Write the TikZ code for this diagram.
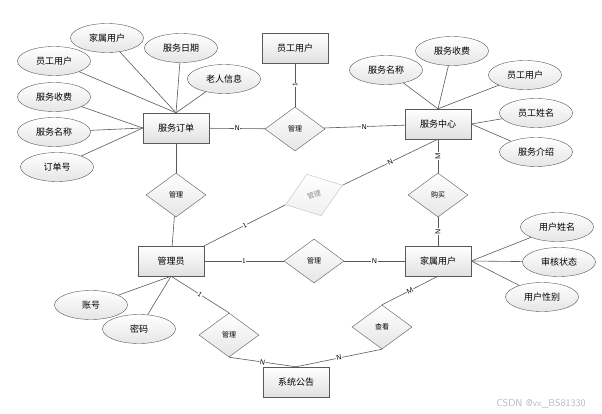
\documentclass[tikz,border=0pt]{standalone}
\usepackage{fontspec}
\newfontfamily\cjk{Noto Sans CJK SC}
\usetikzlibrary{shapes.geometric,shadows}
\begin{document}
\begin{tikzpicture}[x = 1pt, y = -1pt,
		entity/.style = {draw = black!65, top color = white, bottom color = black!12, minimum width = 66pt, minimum height = 30pt, inner sep = 0pt, font = \cjk\fontsize{9}{10}\selectfont, drop shadow = {shadow xshift = 1pt, shadow yshift = -1pt, opacity = 0.25}},
		attr/.style = {ellipse, draw = black!65, top color = white, bottom color = black!10, minimum width = 73pt, minimum height = 29pt, inner sep = 0pt, font = \cjk\fontsize{9}{10}\selectfont},
		rel/.style = {diamond, draw = black!65, top color = white, bottom color = black!10, minimum width = 60pt, minimum height = 44pt, inner sep = 0pt, font = \cjk\fontsize{7}{8}\selectfont},
		link/.style = {draw = black!65, line width = 0.6pt},
		card/.style = {font = \sffamily\fontsize{7}{8}\selectfont, inner sep = 0.5pt, fill = white}]
	\useasboundingbox (0, 0) rectangle (602, 414);
	%Entities
	\node[entity] (yg) at (295, 48) {员工用户};
	\node[entity] (od) at (176, 128) {服务订单};
	\node[entity] (sc) at (438, 124) {服务中心};
	\node[entity] (admin) at (171, 261) {管理员};
	\node[entity] (jy) at (438, 261) {家属用户};
	\node[entity] (gg) at (296, 382) {系统公告};
	%Relations
	\node[rel] (r1) at (295, 129) {管理};
	\node[rel] (r2) at (176, 195) {管理};
	\node[rel, draw = black!25, top color = white, bottom color = black!6, text = black!45, rotate = 19] (r3) at (314, 195) {管理};
	\node[rel] (r4) at (438, 195) {购买};
	\node[rel] (r5) at (314, 261) {管理};
	\node[rel] (r6) at (229, 335) {管理};
	\node[rel] (r7) at (382, 327) {查看};
	%Attributes
	\foreach \n/\p/\t in {o1/{107, 38}/家属用户, o2/{181, 48}/服务日期, o3/{54, 61}/员工用户, o4/{224, 79}/老人信息,
			o5/{54, 97}/服务收费, o6/{54, 132}/服务名称, o7/{57, 167}/订单号,
			s1/{386, 70}/服务名称, s2/{452, 51}/服务收费, s3/{525, 75}/员工用户, s4/{536, 113}/员工姓名, s5/{536, 152}/服务介绍,
			j1/{557, 227}/用户姓名, j2/{559, 262}/审核状态, j3/{542, 297}/用户性别,
			m1/{91, 305}/账号, m2/{139, 329}/密码}
		\node[attr] (\n) at (\p) {\t};
	\foreach \n in {o1, o2, o3, o4}
		\draw[link] (\n) -- (od.north);
	\foreach \n in {o5, o6, o7}
		\draw[link] (\n) -- (od.west);
	\foreach \n in {s1, s2, s3}
		\draw[link] (\n) -- (sc.north);
	\foreach \n in {s4, s5}
		\draw[link] (\n) -- (sc.east);
	\foreach \n in {j1, j2, j3}
		\draw[link] (\n) -- (jy.east);
	\foreach \n in {m1, m2}
		\draw[link] (\n) -- (admin.south);
	%Connections
	\draw[link] (od) -- node[card] {N} (r1);
	\draw[link] (r1) -- node[card] {N} (sc);
	\draw[link] (yg) -- node[card, rotate = 90] {1} (r1);
	\draw[link] (od) -- (r2);
	\draw[link] (r2) -- (admin);
	\draw[link] (admin.north east) -- node[card, sloped] {1} (r3.west);
	\draw[link] (r3.east) -- node[card, sloped] {N} (sc.south);
	\draw[link] (sc) -- node[card, rotate = 90] {M} (r4);
	\draw[link] (r4) -- node[card, rotate = 90] {N} (jy);
	\draw[link] (admin) -- node[card] {1} (r5);
	\draw[link] (r5) -- node[card] {N} (jy);
	\draw[link] (admin.south) -- node[card, sloped] {1} (r6.north);
	\draw[link] (r6.south) -- node[card, sloped] {N} (gg.north);
	\draw[link] (gg.north) -- node[card, sloped] {N} (r7.south);
	\draw[link] (r7.north) -- node[card, sloped] {M} (jy.south);
	%Watermark
	\node[text = black!28, font = \sffamily\fontsize{10}{11}\selectfont] (wm) at (541, 404) {CSDN @vx\_BS81330};
\end{tikzpicture}
\end{document}
